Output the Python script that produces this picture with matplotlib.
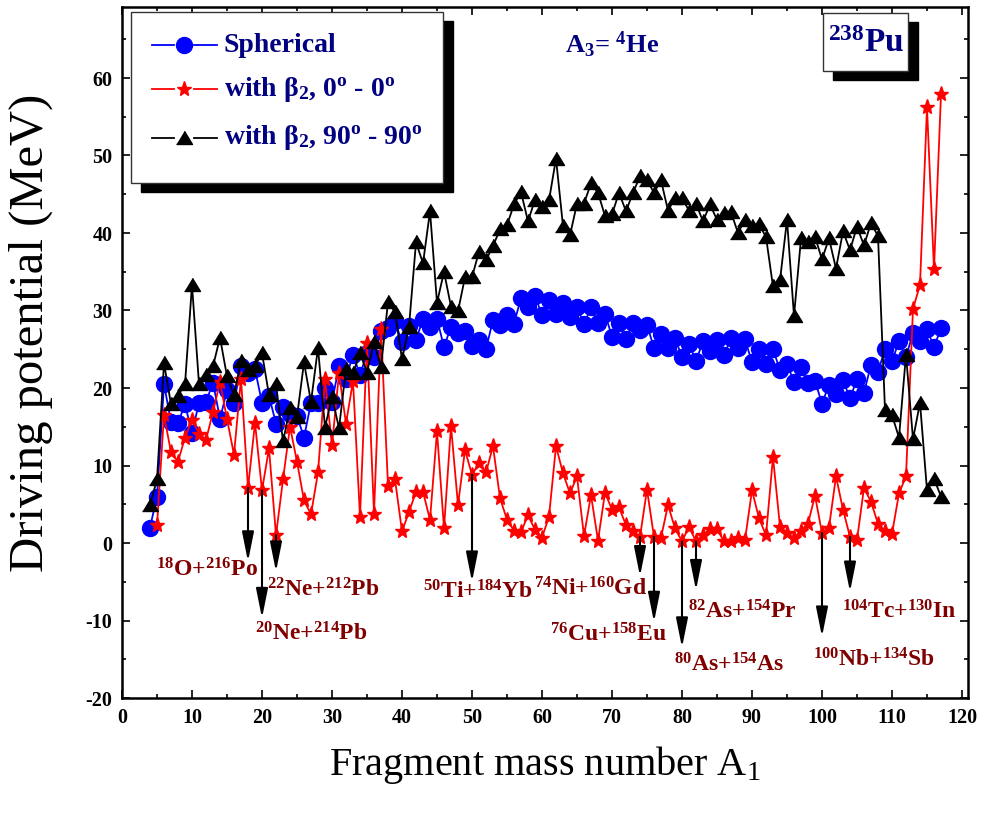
import matplotlib
matplotlib.use("Agg")
import matplotlib.pyplot as plt
from matplotlib.patches import Rectangle
from matplotlib.lines import Line2D
from matplotlib.ticker import MultipleLocator
import numpy as np

plt.rcParams['mathtext.fontset'] = 'custom'
plt.rcParams['mathtext.rm'] = 'Liberation Serif:bold'
plt.rcParams['mathtext.default'] = 'regular'
plt.rcParams['font.family'] = 'Liberation Serif'
plt.rcParams['axes.unicode_minus'] = False

# fragment mass numbers
mass_blue = list(range(4, 118))
mass_black = list(range(4, 118))
mass_red = list(range(5, 118))

# driving potential (MeV), spherical
spherical = [
  2.0, 6.0, 20.5, 15.6, 15.5, 17.9, 14.2, 18.1, 18.2, 20.7,   # 4-13
  16.0, 19.7, 18.1, 22.8, 22.0, 22.4, 18.1, 19.0, 15.4, 17.6,  # 14-23
  16.6, 16.4, 13.6, 18.1, 18.1, 20.0, 18.2, 22.8, 21.2, 24.3,  # 24-33
  21.7, 24.5, 24.0, 27.3, 27.7, 28.6, 25.9, 28.0, 26.2, 28.9,  # 34-43
  27.9, 28.9, 25.3, 27.9, 27.1, 27.4, 25.4, 26.2, 25.0, 28.8,  # 44-53
  28.1, 29.4, 28.3, 31.6, 30.5, 31.9, 29.4, 31.4, 29.6, 31.0,  # 54-63
  29.1, 30.5, 28.2, 30.4, 28.4, 29.6, 26.6, 28.4, 26.3, 28.4,  # 64-73
  27.5, 28.1, 25.2, 27.0, 25.2, 26.4, 24.0, 25.7, 23.5, 26.0,  # 74-83
  24.8, 26.2, 24.2, 26.4, 25.1, 26.3, 23.3, 25.0, 23.1, 25.0,  # 84-93
  22.3, 23.1, 20.8, 22.7, 20.6, 20.9, 18.0, 20.4, 19.2, 21.0,  # 94-103
  18.7, 21.1, 19.4, 23.0, 22.1, 25.0, 23.5, 26.0, 24.0, 27.1,  # 104-113
  26.0, 27.6, 25.3, 27.7,                                      # 114-117
]

# with beta2, 0-0 orientation
beta_0_0 = [
  2.3, 16.5, 11.7, 10.5, 13.6, 15.9, 14.1, 13.3, 16.9,         # 5-13
  20.8, 16.0, 11.4, 21.2, 7.1, 15.5, 6.8, 12.2, 1.0, 8.2,      # 14-23
  15.0, 10.5, 5.5, 3.7, 9.1, 21.1, 12.6, 21.9, 15.4, 20.9,     # 24-33
  3.4, 25.8, 3.8, 27.6, 7.4, 8.2, 1.5, 4.0, 6.6, 6.6,          # 34-43
  3.0, 14.4, 1.9, 15.1, 4.9, 12.0, 8.8, 10.3, 9.1, 12.5,       # 44-53
  5.8, 3.0, 1.6, 1.4, 3.6, 1.7, 0.7, 3.4, 12.5, 9.0,           # 54-63
  6.4, 8.6, 0.9, 6.2, 0.3, 6.5, 4.3, 4.6, 2.3, 1.5,            # 64-73
  0.8, 6.9, 0.8, 0.7, 4.9, 1.9, 0.2, 2.1, 0.2, 1.0,            # 74-83
  1.8, 1.8, 0.2, 0.2, 0.6, 0.4, 6.8, 3.2, 1.0, 11.1,           # 84-93
  2.1, 1.3, 0.6, 1.6, 2.5, 6.1, 1.3, 2.0, 8.6, 4.3,            # 94-103
  0.8, 0.4, 7.1, 5.3, 2.5, 1.5, 1.2, 6.4, 8.6, 30.2,           # 104-113
  33.3, 56.2, 35.3, 57.9,                                      # 114-117
]

# with beta2, 90-90 orientation
beta_90_90 = [
  4.9, 8.2, 23.2, 17.9, 19.0, 20.5, 33.3, 20.5, 21.7, 22.8,    # 4-13
  26.5, 21.5, 19.1, 23.5, 22.3, 22.9, 24.5, 19.1, 20.5, 13.1,  # 14-23
  17.4, 16.3, 23.3, 18.2, 25.2, 14.9, 18.9, 14.8, 22.5, 21.9,  # 24-33
  24.5, 22.0, 25.9, 22.7, 31.1, 29.8, 23.7, 27.9, 38.8, 36.1,  # 34-43
  42.8, 31.0, 35.0, 30.5, 29.9, 34.3, 34.3, 37.6, 36.5, 38.3,  # 44-53
  40.5, 41.0, 43.7, 45.3, 41.5, 44.3, 43.3, 44.2, 49.6, 40.9,  # 54-63
  39.7, 43.8, 43.8, 46.4, 45.2, 42.2, 42.4, 45.2, 42.8, 45.2,  # 64-73
  47.3, 46.8, 45.2, 46.8, 42.9, 44.5, 44.5, 42.9, 43.8, 41.5,  # 74-83
  43.7, 41.7, 42.6, 42.7, 40.0, 41.7, 40.9, 41.1, 39.5, 33.1,  # 84-93
  33.9, 41.7, 29.3, 39.3, 38.8, 39.5, 36.6, 39.3, 35.4, 40.2,  # 94-103
  37.8, 40.8, 38.4, 41.3, 39.6, 17.2, 16.5, 13.6, 24.3, 13.4,  # 104-113
  18.1, 6.8, 8.3, 6.0,                                         # 114-117
]

# decay channel labels
channel_mass = [18, 20, 22, 50, 74, 76, 80, 82, 100, 104]
channel_tip = [-2.4, -9.7, -3.7, -5.0, -4.3, -10.2, -13.5, -6.1, -12.1, -6.3]
channel_label = [
  "$^{18}$O+$^{216}$Po", "$^{20}$Ne+$^{214}$Pb", "$^{22}$Ne+$^{212}$Pb",
  "$^{50}$Ti+$^{184}$Yb", "$^{74}$Ni+$^{160}$Gd", "$^{76}$Cu+$^{158}$Eu",
  "$^{80}$As+$^{154}$As", "$^{82}$As+$^{154}$Pr", "$^{100}$Nb+$^{134}$Sb",
  "$^{104}$Tc+$^{130}$In",
]
channel_text_x = [4.9, 19.0, 20.7, 43.0, 58.8, 61.1, 78.8, 80.9, 98.7, 102.8]
channel_text_y = [-4.3, -12.6, -6.9, -7.1, -6.8, -12.7, -16.6, -9.7, -15.9, -9.7]

W, H = 987, 813
fig = plt.figure(figsize=(W / 100, H / 100), dpi=100)
ax_l, ax_r, ax_t, ax_b = 122, 968, 7.5, 698
ax = fig.add_axes([ax_l / W, 1 - ax_b / H, (ax_r - ax_l) / W, (ax_b - ax_t) / H])

tri = [(-1, -0.75), (1, -0.75), (0, 0.9)]
style = {
  "blue": dict(color="#0000ff", marker="o", ms=11.5, lw=1.3),
  "red": dict(color="#ff0000", marker="*", ms=11, lw=1.3),
  "black": dict(color="black", marker=tri, ms=11.5, lw=1.3),
}

ax.plot(mass_blue, spherical, zorder=3, **style["blue"])
ax.plot(mass_red, beta_0_0, zorder=4, **style["red"])
ax.plot(mass_black, beta_90_90, zorder=5, **style["black"])

red_lookup = dict(zip(mass_red, beta_0_0))
maroon = "#800000"
for m, tip, tx, ty, lab in zip(channel_mass, channel_tip, channel_text_x, channel_text_y, channel_label):
  ax.annotate("", xy=(m, tip), xytext=(m, red_lookup[m]),
              arrowprops=dict(arrowstyle="-|>,head_length=1.0,head_width=0.2",
                              color="black", lw=1.5, shrinkA=0, shrinkB=0,
                              mutation_scale=18), zorder=6)
  ax.text(tx, ty, lab, color=maroon, fontsize=17, fontweight="bold", va="baseline", ha="left", zorder=7)

ax.set_xlim(0, (ax_r - ax_l) / 7.0)
ax.set_ylim(-20, -20 + (ax_b - ax_t) / 7.75)
ax.xaxis.set_minor_locator(MultipleLocator(5))
ax.yaxis.set_minor_locator(MultipleLocator(5))
ax.set_xticks(np.arange(0, 121, 10))
ax.set_yticks(np.arange(-20, 61, 10))
ax.tick_params(which="both", direction="in", top=True, right=True, width=1.2)
ax.tick_params(which="major", length=6, labelsize=14.5, pad=7)
ax.tick_params(which="minor", length=3)
for lab in ax.get_xticklabels() + ax.get_yticklabels():
  lab.set_fontweight("bold")
for s in ax.spines.values():
  s.set_linewidth(1.8)

ax.set_xlabel("Fragment mass number A$_1$", fontsize=29, labelpad=12)
fig.text(31 / W, 1 - 333 / H, "Driving potential (MeV)", fontsize=35,
         rotation=90, ha="center", va="center")

# legend drawn by hand, with its black drop shadow
navy = "#000080"
def px_x(p):
  return (p - ax_l) / (ax_r - ax_l)
def px_y(p):
  return 1 - (p - ax_t) / (ax_b - ax_t)

def shadow_box(x0, y0, x1, y1):
  dx, dy = 10, 9
  ax.add_patch(Rectangle((px_x(x0 + dx), px_y(y1 + dy)), px_x(x1 + dx) - px_x(x0 + dx),
                         px_y(y0 + dy) - px_y(y1 + dy), transform=ax.transAxes,
                         facecolor="black", edgecolor="black", zorder=8))
  ax.add_patch(Rectangle((px_x(x0), px_y(y1)), px_x(x1) - px_x(x0), px_y(y0) - px_y(y1),
                         transform=ax.transAxes, facecolor="white", edgecolor="#333333",
                         lw=1.0, zorder=9))

shadow_box(131, 12, 443, 183)
legend_rows = [45, 89, 138]
legend_text = ["Spherical", "with β$_2$, 0$^o$ - 0$^o$", "with β$_2$, 90$^o$ - 90$^o$"]
for key, row, txt in zip(["blue", "red", "black"], legend_rows, legend_text):
  st = style[key]
  y = px_y(row)
  for a, b in [(152, 174), (194, 217)]:
    ax.add_line(Line2D([px_x(a), px_x(b)], [y, y], transform=ax.transAxes,
                       color=st["color"], lw=1.3, zorder=10))
  ax.add_line(Line2D([px_x(184)], [y], transform=ax.transAxes, color=st["color"],
                     marker=st["marker"], ms=st["ms"], lw=0, zorder=10))
  ax.text(px_x(224), y, txt, transform=ax.transAxes, fontsize=20, fontweight="bold",
          color=navy, va="center", ha="left", zorder=10)

ax.text(px_x(612), px_y(45), "A$_3$= $^4$He", transform=ax.transAxes, fontsize=19,
        fontweight="bold", color=navy, ha="center", va="center", zorder=10)

shadow_box(823, 13, 908, 71)
ax.text(px_x(866), px_y(44), "$^{238}$Pu", transform=ax.transAxes, fontsize=24,
        fontweight="bold", color=navy, ha="center", va="center", zorder=10)

fig.savefig("out.png", dpi=100)
